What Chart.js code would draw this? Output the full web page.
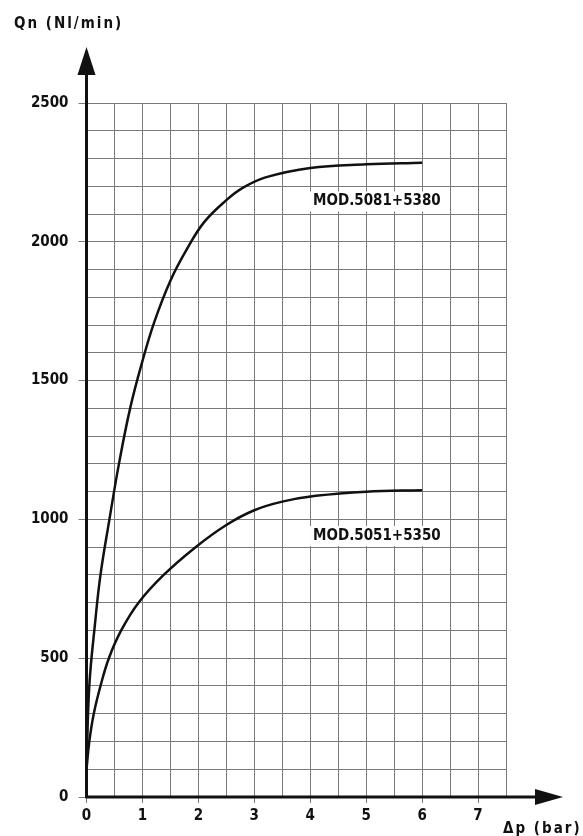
<!DOCTYPE html>
<html>
<head>
<meta charset="utf-8">
<script src="https://cdn.jsdelivr.net/npm/chart.js@4"></script>
<style>
  html, body { margin: 0; padding: 0; background: #fff; }
  #wrap { width: 583px; height: 836px; position: relative; }
</style>
</head>
<body>
<div id="wrap"><canvas id="myChart"></canvas></div>
<script>
// Δp (bar) / Qn (Nl/min)
const upperX = [0, 0.05, 0.15, 0.25, 0.41, 0.58, 0.78, 1.0, 1.21, 1.5, 1.8, 2.1, 2.5, 2.8, 3.2, 4.0, 5, 6];
const upperY = [100, 400, 620, 800, 1000, 1200, 1400, 1570, 1710, 1860, 1975, 2070, 2150, 2195, 2232, 2266, 2279, 2285];
const lowerX = [0, 0.05, 0.13, 0.25, 0.4, 0.62, 0.93, 1.38, 1.95, 2.5, 3.0, 3.5, 4.1, 5, 6];
const lowerY = [100, 200, 300, 400, 500, 600, 700, 800, 900, 980, 1033, 1064, 1085, 1100, 1105];
const upperLabel = 'MOD.5081+5380';
const lowerLabel = 'MOD.5051+5350';
const xTickLabels = [0, 1, 2, 3, 4, 5, 6, 7];
const yTickLabels = [0, 500, 1000, 1500, 2000, 2500];

const FONT = "'DejaVu Sans Condensed', 'DejaVu Sans', sans-serif";

const toPts = (xs, ys) => xs.map((x, i) => ({x: x, y: ys[i]}));

const decor = {
  id: 'decor',
  afterDatasetsDraw(chart) {
    const c = chart.ctx;
    const xs = chart.scales.x, ys = chart.scales.y;
    const x0 = xs.getPixelForValue(0), y0 = ys.getPixelForValue(0);
    c.save();
    // curve labels
    c.font = 'bold 15px ' + FONT;
    c.textBaseline = 'middle';
    c.textAlign = 'left';
    [[upperLabel, 4.05, 2145], [lowerLabel, 4.05, 940]].forEach(([t, vx, vy]) => {
      const px = xs.getPixelForValue(vx), py = ys.getPixelForValue(vy);
      const w = c.measureText(t).width;
      c.fillStyle = '#fff';
      c.fillRect(px - 3, py - 10, w + 6, 20);
      c.fillStyle = '#111';
      c.fillText(t, px, py);
    });
    // axes with arrows
    c.strokeStyle = '#111';
    c.fillStyle = '#111';
    c.lineWidth = 3;
    c.beginPath();
    c.moveTo(x0, y0 + 1);
    c.lineTo(x0, 72);
    c.moveTo(x0 - 1, y0);
    c.lineTo(538, y0);
    c.stroke();
    c.beginPath();
    c.moveTo(x0, 47); c.lineTo(x0 - 9, 75); c.lineTo(x0 + 9, 75); c.closePath();
    c.fill();
    c.beginPath();
    c.moveTo(563, y0); c.lineTo(535, y0 - 8); c.lineTo(535, y0 + 8); c.closePath();
    c.fill();
    // axis titles
    c.font = 'bold 15px ' + FONT;
    c.textBaseline = 'alphabetic';
    c.letterSpacing = '2px';
    c.fillText('Qn (Nl/min)', 14, 28);
    c.fillText('\u0394p (bar)', 503, 833);
    c.restore();
  }
};

new Chart(document.getElementById('myChart'), {
  type: 'scatter',
  data: {
    datasets: [{
      label: upperLabel,
      data: toPts(upperX, upperY),
      showLine: true,
      borderColor: '#111',
      borderWidth: 2.5,
      pointRadius: 0,
      tension: 0.4
    }, {
      label: lowerLabel,
      data: toPts(lowerX, lowerY),
      showLine: true,
      borderColor: '#111',
      borderWidth: 2.5,
      pointRadius: 0,
      tension: 0.4
    }]
  },
  options: {
    responsive: true,
    maintainAspectRatio: false,
    animation: false,
    layout: { padding: { left: 0, top: 103, right: 77, bottom: 0 } },
    plugins: {
      legend: { display: false },
      tooltip: { enabled: false }
    },
    scales: {
      x: {
        type: 'linear',
        min: 0,
        max: 7.5,
        border: { display: false },
        afterFit: (s) => { s.height = 39; },
        grid: {
          color: '#7a7a7a',
          lineWidth: 1,
          tickLength: 6,
          tickColor: (ctx) => xTickLabels.includes(ctx.tick.value) ? '#7a7a7a' : 'rgba(0,0,0,0)'
        },
        ticks: {
          stepSize: 0.5,
          autoSkip: false,
          maxRotation: 0,
          padding: 4,
          color: '#111',
          font: { family: FONT, size: 15, weight: 'bold' },
          callback: (v) => xTickLabels.includes(v) ? String(v) : ''
        }
      },
      y: {
        type: 'linear',
        min: 0,
        max: 2500,
        border: { display: false },
        afterFit: (s) => { s.width = 86.5; },
        grid: {
          color: '#7a7a7a',
          lineWidth: 1,
          tickLength: 8,
          tickColor: (ctx) => yTickLabels.includes(ctx.tick.value) ? '#7a7a7a' : 'rgba(0,0,0,0)'
        },
        ticks: {
          stepSize: 100,
          autoSkip: false,
          padding: 10,
          color: '#111',
          font: { family: FONT, size: 15, weight: 'bold' },
          callback: (v) => yTickLabels.includes(v) ? String(v) : ''
        }
      }
    }
  },
  plugins: [decor]
});
</script>
</body>
</html>
